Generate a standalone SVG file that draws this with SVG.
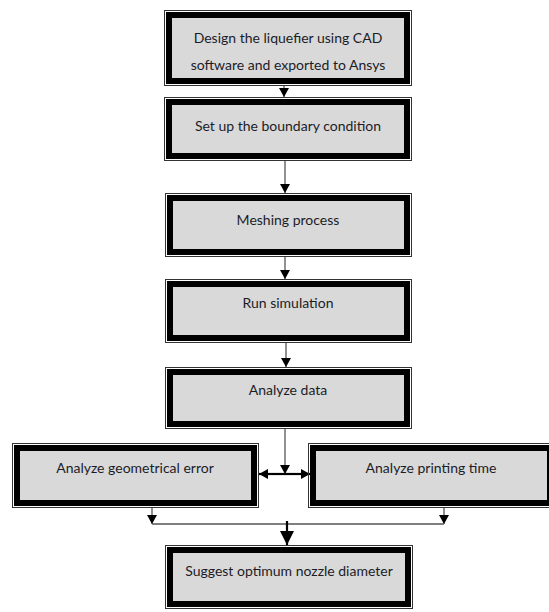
<svg xmlns="http://www.w3.org/2000/svg" width="549" height="612" viewBox="0 0 549 612">
<defs>
<style>
.outer{fill:none;stroke:#333;stroke-width:1}
.inner{fill:#d9d9d9;stroke:#000;stroke-width:6}
.t{font-family:Lato,"Open Sans",sans-serif;font-size:14px;fill:#1c1c28;text-anchor:middle}
.c{fill:none;stroke:#555;stroke-width:1.3}
.cb{fill:none;stroke:#000;stroke-width:2.2}
</style>
<marker id="ah" markerUnits="userSpaceOnUse" markerWidth="9" markerHeight="10" refX="9" refY="5" orient="auto" viewBox="0 0 9 10">
<path d="M0,0 L9,5 L0,10 z" fill="#000"/>
</marker>
<marker id="ahb" markerUnits="userSpaceOnUse" markerWidth="14" markerHeight="14" refX="14" refY="7" orient="auto" viewBox="0 0 14 14">
<path d="M0,0 L14,7 L0,14 z" fill="#000"/>
</marker>
</defs>
<rect width="549" height="612" fill="#fff"/>
<g id="connectors">
<line class="c" x1="284" y1="85" x2="284" y2="97" marker-end="url(#ah)"/>
<line class="c" x1="285" y1="160" x2="285" y2="193" marker-end="url(#ah)"/>
<line class="c" x1="285" y1="257" x2="285" y2="279" marker-end="url(#ah)"/>
<line class="c" x1="286" y1="342" x2="286" y2="367" marker-end="url(#ah)"/>
<line class="c" x1="285" y1="428" x2="285" y2="474" marker-end="url(#ah)"/>
<line class="cb" x1="285" y1="474" x2="259" y2="474" stroke-width="1.6" marker-end="url(#ah)"/>
<line class="cb" x1="285" y1="474" x2="310" y2="474" stroke-width="1.6" marker-end="url(#ah)"/>
<line class="c" x1="152" y1="508" x2="152" y2="524" marker-end="url(#ah)"/>
<line class="c" x1="444" y1="508" x2="444" y2="524" marker-end="url(#ah)"/>
<line class="c" x1="152" y1="524" x2="444" y2="524"/>
<line class="cb" x1="287" y1="521" x2="287" y2="545" marker-end="url(#ahb)"/>
</g>
<g id="n1">
<rect class="outer" x="164.5" y="10.5" width="247" height="75"/>
<rect class="inner" x="169" y="15" width="238" height="66"/>
<text class="t" x="288" y="43">Design the liquefier  using CAD</text>
<text class="t" x="288" y="70">software and exported  to Ansys</text>
</g>
<g id="n2">
<rect class="outer" x="164.5" y="97.5" width="247" height="63"/>
<rect class="inner" x="169" y="102" width="238" height="54"/>
<text class="t" x="288" y="131">Set up the boundary condition</text>
</g>
<g id="n3">
<rect class="outer" x="165.5" y="193.5" width="246" height="63"/>
<rect class="inner" x="170" y="198" width="237" height="54"/>
<text class="t" x="288" y="225">Meshing process</text>
</g>
<g id="n4">
<rect class="outer" x="165.5" y="279.5" width="246" height="63"/>
<rect class="inner" x="170" y="284" width="237" height="54"/>
<text class="t" x="288" y="308">Run simulation</text>
</g>
<g id="n5">
<rect class="outer" x="165.5" y="367.5" width="246" height="61"/>
<rect class="inner" x="170" y="372" width="237" height="52"/>
<text class="t" x="288" y="395">Analyze data</text>
</g>
<g id="n6">
<rect class="outer" x="12.5" y="443.5" width="246" height="64"/>
<rect class="inner" x="17" y="448" width="237" height="55"/>
<text class="t" x="135" y="473">Analyze geometrical error</text>
</g>
<g id="n7">
<rect class="outer" x="308.5" y="443.5" width="246" height="64"/>
<rect class="inner" x="313" y="448" width="237" height="55"/>
<text class="t" x="431" y="473">Analyze printing time</text>
</g>
<g id="n8">
<rect class="outer" x="165.5" y="545.5" width="247" height="63"/>
<rect class="inner" x="170" y="550" width="238" height="54"/>
<text class="t" x="289" y="576">Suggest optimum  nozzle diameter</text>
</g>
</svg>
